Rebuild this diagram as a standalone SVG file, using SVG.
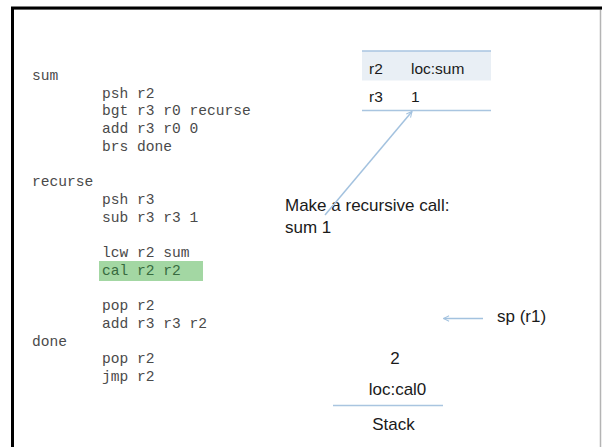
<svg xmlns="http://www.w3.org/2000/svg" width="602" height="447" viewBox="0 0 602 447">
  <defs>
    <marker id="head" viewBox="0 0 10 10" refX="9" refY="5" markerWidth="7" markerHeight="7" orient="auto" markerUnits="userSpaceOnUse">
      <path d="M1,1 L9,5 L1,9" fill="none" stroke="#a3c2df" stroke-width="1.5"/>
    </marker>
    <style>
      .code { font-family: "Liberation Mono", "Courier New", monospace; font-size: 14.6px; fill: #4a4a4a; white-space: pre; }
      .hl { fill: #376b3f; }
      .lbl { font-family: "Liberation Sans", Arial, sans-serif; font-size: 17px; fill: #1a1a1a; }
      .cell { font-family: "Liberation Sans", Arial, sans-serif; font-size: 15.5px; fill: #1a1a1a; }
      .rule { stroke: #a9c5e0; stroke-width: 1.5; fill: none; }
      .conn { stroke: #a3c2df; stroke-width: 1.5; fill: none; }
    </style>
  </defs>

  <!-- page frame -->
  <rect x="0" y="0" width="602" height="447" fill="#ffffff"/>
  <line x1="11" y1="9.5" x2="602" y2="9.5" stroke="#c8c8c8" stroke-width="1"/>
  <line x1="600.5" y1="9" x2="600.5" y2="447" stroke="#b4b4b4" stroke-width="1.5"/>
  <line x1="11" y1="8" x2="602" y2="8" stroke="#000" stroke-width="3"/>
  <line x1="12.5" y1="7" x2="12.5" y2="447" stroke="#000" stroke-width="3"/>

  <!-- assembly listing -->
  <g id="code">
    <rect x="99" y="261" width="104" height="20" fill="#a3d7a3"/>
    <text class="code" x="32" y="80">sum</text>
    <text class="code" x="102" y="97.7">psh r2</text>
    <text class="code" x="102" y="115.4">bgt r3 r0 recurse</text>
    <text class="code" x="102" y="133.1">add r3 r0 0</text>
    <text class="code" x="102" y="150.8">brs done</text>
    <text class="code" x="32" y="186.2">recurse</text>
    <text class="code" x="102" y="203.9">psh r3</text>
    <text class="code" x="102" y="221.6">sub r3 r3 1</text>
    <text class="code" x="102" y="257">lcw r2 sum</text>
    <text class="code hl" x="102" y="274.7">cal r2 r2</text>
    <text class="code" x="102" y="310.1">pop r2</text>
    <text class="code" x="102" y="327.8">add r3 r3 r2</text>
    <text class="code" x="32" y="345.5">done</text>
    <text class="code" x="102" y="363.2">pop r2</text>
    <text class="code" x="102" y="380.9">jmp r2</text>
  </g>

  <!-- register table -->
  <g id="registers">
    <rect x="362" y="51" width="129" height="29.5" fill="#e9eff5"/>
    <line class="rule" x1="362" y1="51" x2="491" y2="51"/>
    <line class="rule" x1="362" y1="110.5" x2="491" y2="110.5"/>
    <text class="cell" x="369" y="74">r2</text>
    <text class="cell" x="411" y="74">loc:sum</text>
    <text class="cell" x="369" y="102">r3</text>
    <text class="cell" x="411" y="102">1</text>
  </g>

  <!-- call note -->
  <g id="note">
    <text class="lbl" x="285" y="210.5" font-size="17.5">Make a recursive call:</text>
    <text class="lbl" x="285" y="233" font-size="17.5">sum 1</text>
  </g>

  <!-- stack pointer label -->
  <g id="sp">
    <text class="lbl" x="497" y="322" font-size="17.3">sp (r1)</text>
  </g>

  <!-- stack -->
  <g id="stack">
    <text class="lbl" x="395" y="364" text-anchor="middle">2</text>
    <text class="lbl" x="397.5" y="395" text-anchor="middle" font-size="17.4">loc:cal0</text>
    <line class="rule" x1="333" y1="405.5" x2="443" y2="405.5"/>
    <text class="lbl" x="393.5" y="430" text-anchor="middle" font-size="16.5">Stack</text>
  </g>

  <!-- connectors -->
  <g id="connectors">
    <line class="conn" x1="325" y1="215" x2="412" y2="111.5" marker-end="url(#head)"/>
    <line class="conn" x1="483" y1="318.5" x2="443.5" y2="318.5" marker-end="url(#head)"/>
  </g>
</svg>
